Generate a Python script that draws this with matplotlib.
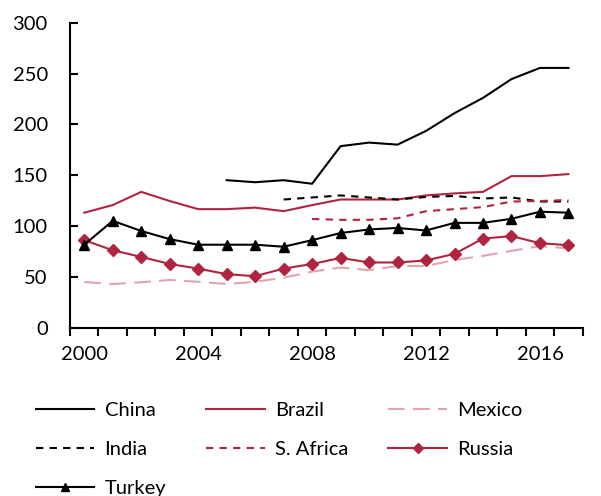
import matplotlib

matplotlib.use("Agg")
import matplotlib.pyplot as plt
import numpy as np

plt.rcParams["font.family"] = ["Lato", "DejaVu Sans"]

years = list(range(2000, 2018))
year_labels = ["2000", "2004", "2008", "2012", "2016"]

china = [None] * 5 + [145, 143, 145, 141.5, 178.5, 182, 180, 193.5, 211, 226, 244.5, 255.5, 255.5]
brazil = [113, 120.5, 133.5, 124.5, 116.5, 116.5, 118, 114.5, 120.5, 126, 126, 126, 130, 132, 133.5,
          149, 149, 151]
mexico = [44.8, 42.8, 44.5, 46.8, 45, 42.8, 45, 49, 55, 59, 56.5, 60.5, 60.5, 66.5, 70.5, 75.5, 80, 78]
india = [None] * 7 + [126, 128, 130, 128, 126, 128.5, 129.5, 127, 128, 124, 124]
safrica = [None] * 8 + [106.8, 106, 106, 107.5, 114.5, 116.5, 118.5, 124, 124.5, 125.5]
russia = [86, 76, 69.5, 62.5, 58, 52.5, 50.5, 58, 62.5, 68.5, 64, 64, 66, 72.5, 87.5, 90, 83, 81]
turkey = [81.5, 105, 95, 87, 81.5, 81.5, 81.5, 79.5, 86, 93, 96.5, 98, 95.5, 103, 103, 107, 114,
          113]

RED = "#B0243F"
PINK = "#E2A3AF"


def arr(vals):
    return np.array([np.nan if v is None else v for v in vals], dtype=float)


fig = plt.figure(figsize=(6.01, 4.96), dpi=100)
ax = fig.add_axes([0.1165, 0.3397, 0.853, 0.6145])

x = np.arange(len(years))
lw = 1.5
lines = {}
lines["China"], = ax.plot(x, arr(china), color="black", lw=lw)
lines["Brazil"], = ax.plot(x, arr(brazil), color=RED, lw=lw)
lines["Mexico"], = ax.plot(x, arr(mexico), color=PINK, lw=lw, dashes=(8, 4))
lines["India"], = ax.plot(x, arr(india), color="black", lw=lw, dashes=(3.5, 3))
lines["S. Africa"], = ax.plot(x, arr(safrica), color=RED, lw=lw, dashes=(3.5, 3))
lines["Russia"], = ax.plot(x, arr(russia), color=RED, lw=lw, marker="D", ms=6)
lines["Turkey"], = ax.plot(x, arr(turkey), color="black", lw=lw, marker="^", ms=7.5)

ax.set_xlim(-0.5, len(years) - 0.5)
ax.set_ylim(0, 300)
ax.set_yticks(np.arange(0, 301, 50))
ax.tick_params(axis="y", direction="in", length=6, width=1.5, pad=16, labelsize=14.5)

ax.set_xticks(np.arange(-0.5, len(years), 1))
ax.set_xticklabels([])
ax.tick_params(axis="x", which="major", direction="out", length=6, width=1.5)
ax.set_xticks([years.index(int(s)) for s in year_labels], year_labels, minor=True)
ax.tick_params(axis="x", which="minor", length=0, pad=13, labelsize=14.5)

for side in ("top", "right"):
    ax.spines[side].set_visible(False)
for side in ("left", "bottom"):
    ax.spines[side].set_linewidth(1.5)

# matplotlib fills legend columns first; reorder so rows read China/Brazil/Mexico ...
order = ["China", "India", "Turkey", "Brazil", "S. Africa", "Mexico", "Russia"]
fig.legend([lines[k] for k in order], order, loc="upper left", bbox_to_anchor=(0.06, 0.19),
           ncol=3, frameon=False, fontsize=14.5, handlelength=2.9, columnspacing=2.0,
           labelspacing=1.1, handletextpad=0.5, borderpad=0, borderaxespad=0, markerscale=0.8)

fig.savefig("out.png", dpi=100)
